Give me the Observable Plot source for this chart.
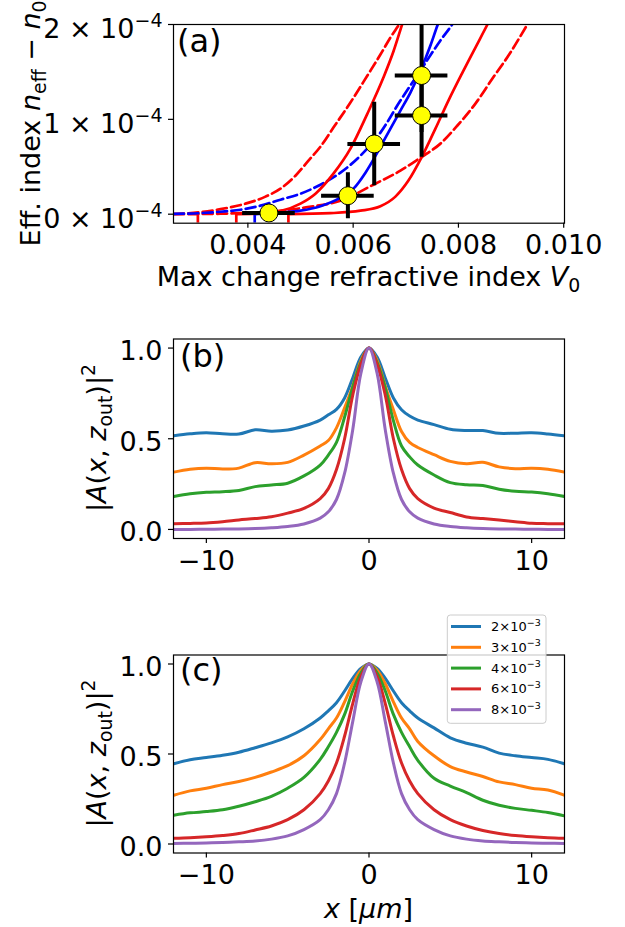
<!DOCTYPE html>
<html><head><meta charset="utf-8">
<script src="https://cdn.jsdelivr.net/npm/d3@7"></script>
<script src="https://cdn.jsdelivr.net/npm/@observablehq/plot@0.6"></script>
<style>
body{margin:0;background:#fff;}
#root{position:relative;width:625px;height:927px;overflow:hidden;font-family:"DejaVu Sans",sans-serif;background:#fff;}
#root > svg{position:absolute;left:0;}
</style></head><body><div id="root"></div>
<script>
// ---------------- Panel (a) data (n_eff - n0 in units of 1e-4) ----------------
const v0Points   = [0.00440, 0.00590, 0.00640, 0.00730, 0.00730];
const neffPoints = [0.013, 0.195, 0.741, 1.462, 1.040];
const v0Err      = [0.00050, 0.00050, 0.00050, 0.00050, 0.00050];
const neffErr    = [0.03, 0.243, 0.44, 0.60, 0.44];

const redDashUpperV = [0.002595,0.0031,0.00348,0.003954,0.004334,0.004619,0.004904,0.005151,0.005379,0.005625,0.005948,0.006271,0.006518,0.006708,0.006898,0.00705];
const redDashUpperN = [0.002,0.021,0.053,0.111,0.185,0.269,0.406,0.565,0.712,0.913,1.177,1.462,1.683,1.863,2.021,2.169];
const redSolidLeftV = [0.003784,0.004239,0.004619,0.004999,0.005284,0.005625,0.005948,0.006271,0.006575,0.006765,0.006936,0.00705];
const redSolidLeftN = [0,0.007,0.032,0.111,0.216,0.427,0.691,1.061,1.441,1.715,2.01,2.2];
const blueDashV = [0.002595,0.0031,0.00348,0.00386,0.00424,0.004619,0.004999,0.005379,0.005759,0.006139,0.006518,0.006898,0.007278,0.007658,0.007905,0.008038];
const blueDashN = [0.003,0.011,0.026,0.047,0.09,0.153,0.216,0.311,0.438,0.617,0.86,1.198,1.515,1.832,2.021,2.148];
const blueSolidV = [0.004131,0.004619,0.004999,0.005379,0.005759,0.006006,0.006234,0.006405,0.006614,0.006898,0.007088,0.007297,0.007468,0.007601,0.007753];
const blueSolidN = [0,0.016,0.037,0.084,0.174,0.269,0.438,0.596,0.807,1.092,1.282,1.536,1.778,1.989,2.2];
const redDashLowerV = [0.002595,0.00348,0.004049,0.004486,0.005132,0.005759,0.006385,0.006898,0.007278,0.007658,0.007981,0.008323,0.008646,0.008988,0.00931,0.0095];
const redDashLowerN = [0,0.005,0.016,0.03,0.074,0.142,0.311,0.459,0.596,0.744,0.935,1.166,1.43,1.704,2.0,2.17];
const redSolidRightV = [0.004771,0.005568,0.006139,0.006518,0.006803,0.00705,0.007297,0.007563,0.00781,0.008076,0.008323,0.008551,0.008703];
const redSolidRightN = [0,0.011,0.037,0.084,0.185,0.354,0.596,0.902,1.198,1.493,1.757,2.0,2.169];
const redCutoffs  = [0.00305, 0.00378, 0.00477];
const blueCutoffs = [0.00413];

const xTicksA = [0.004, 0.006, 0.008, 0.010];
const yTicksA = [0, 1, 2];
const yTickExpA = "−4";

// ---------------- Panels (b), (c) data ----------------
const xGrid = [-12,-11,-10,-9,-8,-7,-6,-5,-4,-3,-2.5,-2,-1.5,-1,-0.5,0,0.5,1,1.5,2,2.5,3,4,5,6,7,8,9,10,11,12];
const bBlue   = [.516,.527,.533,.527,.526,.549,.542,.548,.57,.603,.632,.662,.725,.835,.95,1,.95,.835,.725,.66,.625,.603,.578,.552,.545,.545,.53,.531,.533,.526,.516];
const bOrange = [.316,.332,.338,.333,.338,.368,.362,.37,.41,.46,.49,.56,.67,.79,.93,1,.93,.79,.66,.54,.48,.452,.412,.375,.362,.37,.345,.335,.338,.332,.316];
const bGreen  = [.182,.197,.205,.208,.215,.236,.245,.255,.295,.355,.41,.48,.62,.785,.92,1,.92,.78,.6,.46,.4,.355,.3,.258,.246,.242,.222,.21,.206,.197,.182];
const bRed    = [.031,.033,.036,.043,.052,.06,.07,.09,.116,.17,.225,.33,.5,.74,.91,1,.91,.74,.5,.33,.225,.17,.118,.093,.069,.06,.052,.043,.034,.032,.031];
const bPurple = [0,0,.001,.002,.003,.005,.009,.016,.03,.062,.097,.165,.31,.55,.86,1,.86,.55,.31,.165,.097,.062,.03,.016,.009,.005,.003,.002,.001,0,0];

const cBlue   = [.446,.468,.48,.493,.51,.535,.562,.595,.64,.7,.74,.785,.85,.92,.975,1,.975,.92,.85,.785,.74,.7,.645,.59,.56,.538,.505,.49,.48,.47,.446];
const cOrange = [.271,.295,.31,.33,.347,.37,.4,.435,.49,.58,.64,.7,.79,.89,.965,1,.965,.89,.79,.7,.64,.57,.49,.43,.4,.375,.345,.33,.31,.3,.271];
const cGreen  = [.16,.173,.18,.19,.21,.235,.265,.31,.37,.47,.54,.62,.72,.85,.95,1,.95,.85,.72,.62,.54,.465,.365,.322,.285,.243,.215,.198,.187,.175,.157];
const cRed    = [.032,.035,.04,.047,.058,.078,.1,.135,.19,.28,.35,.45,.6,.78,.93,1,.93,.78,.6,.45,.35,.28,.19,.135,.1,.075,.058,.047,.04,.035,.032];
const cPurple = [.003,.004,.006,.008,.012,.017,.027,.045,.08,.135,.19,.28,.45,.68,.9,1,.9,.68,.45,.28,.19,.135,.08,.045,.027,.017,.012,.008,.006,.004,.003];

const seriesMantissa = [2, 3, 4, 6, 8];
const seriesExponent = "−3";
const xTicksBC = [-10, 0, 10];
const yTicksBC = [0, 0.5, 1];

// ---------------- styles ----------------
const tab = ["#1f77b4", "#ff7f0e", "#2ca02c", "#d62728", "#9467bd"];
const FONT = "DejaVu Sans";
const FS = 27;

const root = d3.select("#root");

function baseStyle() {
  return {fontFamily: FONT, fontSize: FS + "px", color: "black", background: "transparent", overflow: "visible"};
}
function shiftGroup(svg, label, dx, dy) {
  d3.select(svg).selectAll(`g[aria-label="${label}"]`).each(function() {
    const g = d3.select(this);
    g.attr("transform", (g.attr("transform") || "") + ` translate(${dx},${dy})`);
  });
}

// ---------------- Panel (a) ----------------
const pts = v0Points.map((v, i) => ({v, n: neffPoints[i], x1: v - v0Err[i], x2: v + v0Err[i], y1: neffPoints[i] - neffErr[i], y2: neffPoints[i] + neffErr[i]}));
const mk = (V, N) => V.map((v, i) => ({v, n: N[i]}));
const curvesA = [
  {d: mk(redDashUpperV, redDashUpperN), c: "red", dash: "10,4.4"},
  {d: mk(redDashLowerV, redDashLowerN), c: "red", dash: "10,4.4"},
  {d: mk(blueDashV, blueDashN), c: "blue", dash: "10,4.4"},
  {d: mk(redSolidLeftV, redSolidLeftN), c: "red", dash: null},
  {d: mk(redSolidRightV, redSolidRightN), c: "red", dash: null},
  {d: mk(blueSolidV, blueSolidN), c: "blue", dash: null},
];
const yMinA = -0.095;
const plotA = Plot.plot({
  width: 625, height: 300,
  marginTop: 24, marginBottom: 77.3, marginLeft: 173, marginRight: 61,
  x: {domain: [0.002587, 0.010015]},
  y: {domain: [yMinA, 2]},
  style: baseStyle(),
  marks: [
    Plot.ruleX(redCutoffs, {x: d => d, y1: yMinA, y2: 0, stroke: "red", strokeWidth: 2.7, clip: true}),
    Plot.ruleX(blueCutoffs, {x: d => d, y1: yMinA, y2: 0, stroke: "blue", strokeWidth: 2.7, clip: true}),
    ...curvesA.map(c => Plot.line(c.d, {x: "v", y: "n", stroke: c.c, strokeWidth: 2.7, strokeDasharray: c.dash, curve: "monotone-x", clip: true})),
    Plot.ruleY(pts, {y: "n", x1: "x1", x2: "x2", stroke: "black", strokeWidth: 4, clip: true}),
    Plot.ruleX(pts, {x: "v", y1: "y1", y2: "y2", stroke: "black", strokeWidth: 4, clip: true}),
    Plot.dot(pts, {x: "v", y: "n", r: 9, fill: "#ffff00", stroke: "black", strokeWidth: 1}),
    Plot.frame({stroke: "black", strokeWidth: 1.2}),
    Plot.axisX({ticks: xTicksA, tickSize: 5, tickPadding: 7, strokeWidth: 1.2, tickFormat: d3.format(".3f"), label: null}),
    Plot.axisY({ticks: yTicksA, tickSize: 5, tickPadding: 6, strokeWidth: 1.2, tickFormat: d => String(d), label: null})
  ]
});
d3.select(plotA).selectAll('g[aria-label="y-axis tick label"] text').each(function() {
  const m = this.textContent; const t = d3.select(this);
  t.text("");
  t.append("tspan").text(m + " × 10");
  t.append("tspan").attr("dy", -11).attr("font-size", 19).text(yTickExpA);
});
shiftGroup(plotA, "y-axis tick label", 0, 5);
plotA.style.top = "0px";
root.node().appendChild(plotA);

// ---------------- Panels (b), (c) ----------------
function profilePlot(series, top, height, mTop, mBottom) {
  const data = [];
  series.forEach((arr, k) => arr.forEach((y, i) => data.push({x: xGrid[i], y, k})));
  const svg = Plot.plot({
    width: 625, height,
    marginTop: mTop, marginBottom: mBottom, marginLeft: 173, marginRight: 61,
    x: {domain: [-12.02, 12.02]},
    y: {domain: [-0.05, 1.05]},
    style: baseStyle(),
    marks: [
      Plot.line(data, {x: "x", y: "y", z: "k", stroke: d => tab[d.k], strokeWidth: 3, curve: "catmull-rom", clip: true}),
      Plot.frame({stroke: "black", strokeWidth: 1.2}),
      Plot.axisX({ticks: xTicksBC, tickSize: 5, tickPadding: 7, strokeWidth: 1.2, tickFormat: d3.format("d"), label: null}),
      Plot.axisY({ticks: yTicksBC, tickSize: 5, tickPadding: 6, strokeWidth: 1.2, tickFormat: d3.format(".1f"), label: null})
    ]
  });
  shiftGroup(svg, "y-axis tick label", 0, 3.4);
  svg.style.top = top + "px";
  root.node().appendChild(svg);
  return svg;
}
profilePlot([bBlue, bOrange, bGreen, bRed, bPurple], 310, 290, 28.5, 62);
profilePlot([cBlue, cOrange, cGreen, cRed, cPurple], 625, 302, 29.5, 74.5);

// ---------------- overlay: labels and legend ----------------
const ov = root.append("svg").attr("width", 625).attr("height", 927)
  .style("top", "0px").style("font-family", FONT).style("font-size", FS + "px");

function mathText(sel, parts, size) {
  let shift = 0;
  parts.forEach(p => {
    const ts = sel.append("tspan").text(p.t);
    const target = p.sub ? size * 0.24 : p.sup ? -size * 0.42 : 0;
    if (target - shift !== 0) ts.attr("dy", target - shift);
    shift = target;
    if (p.sub || p.sup) ts.attr("font-size", size * 0.7);
    if (p.it) ts.attr("font-style", "italic");
  });
}
function label(x, y, rot, parts, size = FS, anchor = "middle") {
  const t = ov.append("text").attr("transform", `translate(${x},${y})` + (rot ? ` rotate(${rot})` : ""))
    .attr("text-anchor", anchor).attr("font-size", size).attr("fill", "black");
  mathText(t, parts, size);
}
// panel (a)
label(368.5, 286, 0, [{t: "Max change refractive index "}, {t: "V", it: true}, {t: "0", sub: true}]);
label(40, 123.4, -90, [{t: "Eff. index "}, {t: "n", it: true}, {t: "eff", sub: true}, {t: " − "}, {t: "n", it: true}, {t: "0", sub: true}]);
// panels (b), (c)
const ampLabel = [{t: "|"}, {t: "A", it: true}, {t: "("}, {t: "x", it: true}, {t: ", "}, {t: "z", it: true}, {t: "out", sub: true}, {t: ")|"}, {t: "2", sup: true}];
label(106, 438, -90, ampLabel);
label(106, 753.5, -90, ampLabel);
label(368.5, 918, 0, [{t: "x", it: true}, {t: " ["}, {t: "μm", it: true}, {t: "]"}]);
// panel letters
label(177, 52, 0, [{t: "(a)"}], 32, "start");
label(180, 367, 0, [{t: "(b)"}], 32, "start");
label(180, 681, 0, [{t: "(c)"}], 32, "start");

// legend
const lg = ov.append("g");
lg.append("rect").attr("x", 447.3).attr("y", 615).attr("width", 98.7).attr("height", 108.3).attr("rx", 3)
  .attr("fill", "white").attr("fill-opacity", 0.8).attr("stroke", "#cccccc").attr("stroke-width", 1);
seriesMantissa.forEach((m, i) => {
  const y = 626.5 + i * 20.8;
  lg.append("line").attr("x1", 451).attr("x2", 481).attr("y1", y).attr("y2", y).attr("stroke", tab[i]).attr("stroke-width", 3);
  const t = lg.append("text").attr("x", 491).attr("y", y + 4.5).attr("font-size", 13).attr("fill", "black");
  t.append("tspan").text(m + "×10");
  t.append("tspan").attr("dy", -5.5).attr("font-size", 9.5).text(seriesExponent);
});
</script></body></html>
